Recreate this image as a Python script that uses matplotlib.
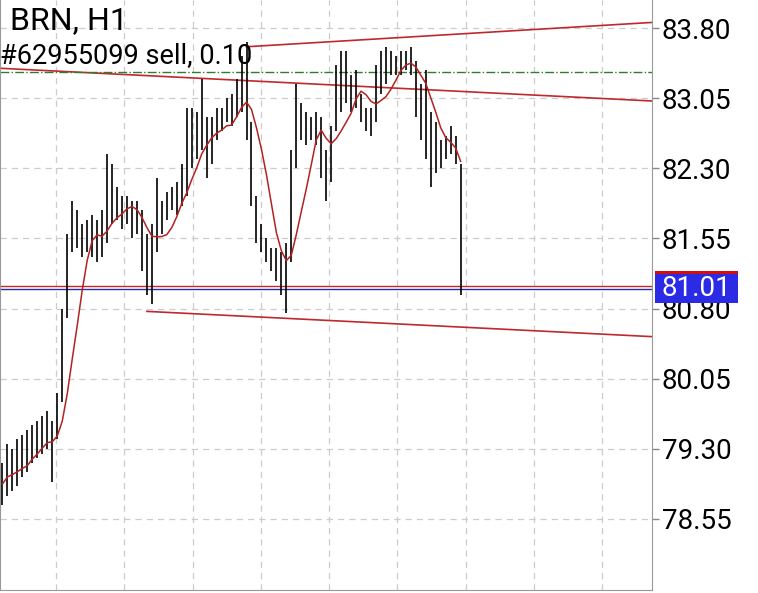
import matplotlib
matplotlib.use("Agg")
import matplotlib.pyplot as plt
from matplotlib.patches import Rectangle
import numpy as np
import pandas as pd

plt.rcParams["font.family"] = ["Roboto", "DejaVu Sans"]

# bar lows / highs (one bar per index)
lows = [78.70, 78.80, 78.85, 78.90, 79.00, 79.05, 79.15, 79.20, 79.25, 79.30,
        78.95, 79.40, 79.80, 80.70, 81.40, 81.45, 81.35, 81.40, 81.35, 81.30,
        81.35, 81.50, 81.70, 81.75, 81.65, 81.70, 81.55, 81.60, 81.20, 80.95,
        80.85, 81.40, 81.60, 81.75, 81.85, 81.80, 81.90, 82.00, 82.30, 82.40,
        82.50, 82.20, 82.35, 82.60, 82.70, 82.80, 82.75, 82.85, 82.90, 82.60,
        81.90, 81.50, 81.40, 81.30, 81.20, 81.10, 80.95, 80.75, 81.30, 82.30,
        82.60, 82.55, 82.60, 82.55, 82.20, 81.95, 82.15, 82.70, 82.90, 83.00,
        82.90, 82.95, 82.80, 82.70, 82.65, 82.80, 83.10, 83.20, 83.30, 83.30,
        83.30, 83.35, 83.30, 82.85, 82.60, 82.40, 82.10, 82.25, 82.30, 82.40,
        82.45, 82.35, 80.95]
highs = [79.15, 79.35, 79.30, 79.40, 79.45, 79.50, 79.55, 79.60, 79.65, 79.70,
         79.60, 79.90, 80.80, 81.60, 81.95, 81.85, 81.70, 81.75, 81.80, 81.75,
         81.85, 82.45, 82.35, 82.10, 82.00, 82.00, 81.95, 81.95, 81.85, 81.60,
         81.70, 82.20, 81.95, 82.05, 82.10, 82.15, 82.35, 82.95, 82.95, 82.90,
         83.25, 82.85, 82.85, 82.95, 82.95, 83.05, 83.10, 83.25, 83.50, 83.65,
         82.80, 82.00, 81.70, 81.55, 81.45, 81.45, 81.40, 81.50, 82.50, 83.20,
         83.00, 82.90, 82.85, 82.90, 82.85, 82.50, 82.75, 83.40, 83.55, 83.55,
         83.30, 83.35, 83.10, 82.95, 82.95, 83.40, 83.55, 83.60, 83.55, 83.50,
         83.55, 83.55, 83.60, 83.45, 83.20, 83.35, 82.90, 82.80, 82.60, 82.65,
         82.75, 82.65, 82.35]

yticks = [78.55, 79.30, 80.05, 80.80, 81.55, 82.30, 83.05, 83.80]
symbol = "BRN, H1"
order_text = "#62955099 sell, 0.10"
last_price = 81.01

lows = np.array(lows)
highs = np.array(highs)
idx = np.arange(len(lows))
mid = (lows + highs) / 2
ma = pd.Series(mid).rolling(6, min_periods=1).mean()

fig = plt.figure(figsize=(7.58, 5.93), dpi=100)
ax = fig.add_axes([0.0, 0.005, 0.86, 0.995])
ax.set_xlim(-0.5, 130.4)
ax.set_ylim(77.79, 84.10)

# grid
for gx in np.arange(10.8, 130, 13.7):
    ax.axvline(gx, color="#cccccc", ls=(0, (5, 4)), lw=0.9, zorder=0)
for gy in yticks:
    ax.axhline(gy, color="#cccccc", ls=(0, (5, 4)), lw=0.9, zorder=0)

ax.vlines(idx, lows, highs, color="black", lw=1.2, zorder=3)
ax.plot(idx, ma, color="#b22222", lw=1.1, zorder=4)

# trend lines
ax.plot([49, 130.4], [83.60, 83.86], color="#c0282d", lw=1.2, zorder=2)
ax.plot([-0.5, 130.4], [83.37, 83.02], color="#c0282d", lw=1.2, zorder=2)
ax.plot([29, 130.4], [80.77, 80.50], color="#c0282d", lw=1.2, zorder=2)
ax.axhline(83.33, color="#2e7d2e", ls="-.", lw=1.0, zorder=2)
ax.axhline(last_price + 0.03, color="#c0282d", lw=1.0, zorder=2)
ax.axhline(last_price, color="#2a2a9a", lw=1.0, zorder=2)

ax.yaxis.tick_right()
ax.set_yticks(yticks)
ax.set_yticklabels([f"{t:.2f}" for t in yticks], fontsize=20)
ax.tick_params(axis="y", length=5, width=1, color="#888888", pad=2)
ax.set_xticks([])
for s in ["right", "bottom", "left"]:
    ax.spines[s].set_color("#999999")
ax.spines["top"].set_visible(False)

fig.text(10 / 758, 1 - 6 / 593, symbol, fontsize=23, va="top", ha="left")
fig.text(0.0, 1 - 42 / 593, order_text, fontsize=19.5, va="top", ha="left")

# price box on the axis
fig.patches.append(Rectangle((655 / 758, 1 - 303 / 593), 83 / 758, 31 / 593,
                             transform=fig.transFigure, fc="#2b2be6", ec="none", zorder=5))
fig.patches.append(Rectangle((655 / 758, 1 - 274 / 593), 83 / 758, 3 / 593,
                             transform=fig.transFigure, fc="#d01010", ec="none", zorder=6))
fig.text(696 / 758, 1 - 289 / 593, f"{last_price:.2f}", fontsize=20, color="white",
         va="center", ha="center", zorder=7)

fig.savefig("out.png", dpi=100)
